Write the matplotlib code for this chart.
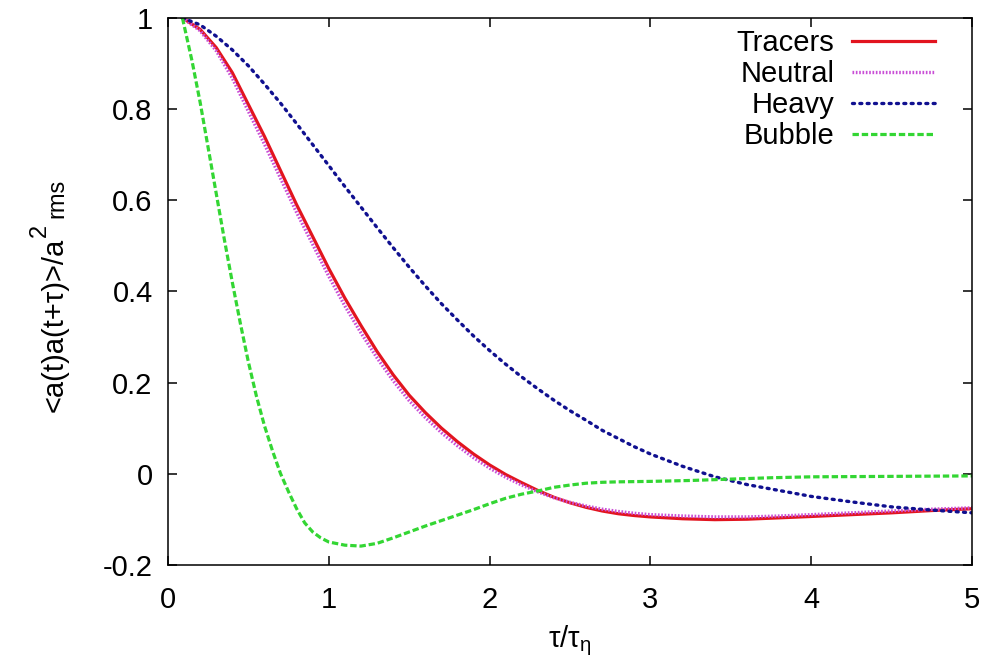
import matplotlib
matplotlib.use("Agg")
import matplotlib.pyplot as plt

plt.rcParams['font.family'] = ['Liberation Sans', 'DejaVu Sans']
plt.rcParams['mathtext.fontset'] = 'custom'
plt.rcParams['mathtext.rm'] = 'Liberation Sans'
plt.rcParams['mathtext.it'] = 'Liberation Sans:italic'

# tau / tau_eta and normalised acceleration autocorrelation
tracers_x = [0.09, 0.2, 0.3, 0.4, 0.5, 0.6, 0.7, 0.8, 0.9, 1.0, 1.1, 1.2, 1.3, 1.4, 1.5,
             1.6, 1.7, 1.8, 1.9, 2.0, 2.1, 2.2, 2.3, 2.4, 2.5, 2.6, 2.7, 2.8, 2.9, 3.0,
             3.2, 3.4, 3.6, 3.8, 4.0, 4.25, 4.5, 4.75, 5.0]
tracers_y = [1.0, 0.975, 0.935, 0.88, 0.81, 0.74, 0.665, 0.59, 0.52, 0.45, 0.385, 0.325,
             0.268, 0.217, 0.172, 0.134, 0.1, 0.07, 0.043, 0.019, -0.002, -0.02, -0.037,
             -0.052, -0.064, -0.074, -0.082, -0.088, -0.092, -0.095, -0.099, -0.101, -0.1,
             -0.097, -0.094, -0.09, -0.086, -0.081, -0.077]

neutral_x = tracers_x
neutral_y = [1.0, 0.972, 0.928, 0.868, 0.795, 0.723, 0.648, 0.573, 0.503, 0.433, 0.368,
             0.309, 0.254, 0.204, 0.16, 0.123, 0.09, 0.061, 0.035, 0.012, -0.008, -0.025,
             -0.04, -0.053, -0.063, -0.071, -0.078, -0.083, -0.087, -0.09, -0.093, -0.095,
             -0.095, -0.093, -0.09, -0.086, -0.082, -0.078, -0.075]

heavy_x = [0.09, 0.2, 0.3, 0.4, 0.5, 0.6, 0.7, 0.8, 0.9, 1.0, 1.1, 1.2, 1.3, 1.4, 1.5,
           1.6, 1.7, 1.8, 1.9, 2.0, 2.1, 2.2, 2.3, 2.4, 2.5, 2.6, 2.7, 2.8, 2.9, 3.0,
           3.2, 3.4, 3.6, 3.8, 4.0, 4.25, 4.5, 4.75, 5.0]
heavy_y = [1.0, 0.985, 0.96, 0.93, 0.895, 0.855, 0.813, 0.768, 0.722, 0.676, 0.63, 0.585,
           0.54, 0.496, 0.453, 0.412, 0.373, 0.337, 0.302, 0.27, 0.24, 0.212, 0.186, 0.161,
           0.138, 0.117, 0.095, 0.077, 0.059, 0.043, 0.016, -0.007, -0.024, -0.037, -0.05,
           -0.062, -0.073, -0.08, -0.086]

bubble_x = [0.09, 0.15, 0.2, 0.25, 0.3, 0.35, 0.4, 0.45, 0.5, 0.55, 0.6, 0.65, 0.7, 0.75,
            0.8, 0.85, 0.9, 0.95, 1.0, 1.1, 1.2, 1.3, 1.4, 1.5, 1.6, 1.7, 1.8, 1.9, 2.0,
            2.1, 2.2, 2.3, 2.4, 2.5, 2.6, 2.7, 2.8, 3.0, 3.25, 3.5, 3.75, 4.0, 4.5, 5.0]
bubble_y = [1.0, 0.905, 0.815, 0.715, 0.615, 0.515, 0.42, 0.33, 0.245, 0.17, 0.105, 0.05,
            0.0, -0.04, -0.077, -0.108, -0.128, -0.141, -0.15, -0.157, -0.159, -0.153,
            -0.141, -0.128, -0.115, -0.103, -0.091, -0.079, -0.066, -0.054, -0.045, -0.038,
            -0.03, -0.025, -0.021, -0.019, -0.018, -0.017, -0.015, -0.012, -0.009, -0.007,
            -0.006, -0.005]

xticks = [0, 1, 2, 3, 4, 5]
yticks = [-0.2, 0, 0.2, 0.4, 0.6, 0.8, 1]
ytick_labels = ['-0.2', '0', '0.2', '0.4', '0.6', '0.8', '1']

fig = plt.figure(figsize=(9.88, 6.66), dpi=100)
ax = fig.add_axes([0.170, 0.152, 0.814, 0.821])

ax.plot(tracers_x, tracers_y, color='#e2141f', lw=2.3, label='Tracers')
ax.plot(neutral_x, neutral_y, color='#c94fd6', lw=2.4, ls=(0, (0.5, 0.5)), label='Neutral')
ax.plot(heavy_x, heavy_y, color='#101090', lw=2.4, ls=(0, (0.6, 1.6)),
        dash_capstyle='round', label='Heavy')
ax.plot(bubble_x, bubble_y, color='#33d633', lw=2.3, ls=(0, (2.0, 0.9)), label='Bubble')

ax.set_xlim(0, 5)
ax.set_ylim(-0.2, 1)
ax.set_xticks(xticks)
ax.set_xticklabels([str(t) for t in xticks])
ax.set_yticks(yticks)
ax.set_yticklabels(ytick_labels)
ax.tick_params(direction='in', length=6.5, width=1.1, labelsize=21,
               top=True, right=True)
ax.tick_params(axis='x', pad=15)
ax.tick_params(axis='y', pad=11)
for s in ax.spines.values():
    s.set_linewidth(1.1)

ax.set_xlabel('τ/τ$_{\\mathrm{η}}$', fontsize=21, labelpad=7)
ax.set_ylabel('<a(t)a(t+τ)>/a', fontsize=21)
ax.yaxis.set_label_coords(-0.124, 0.438)

leg = ax.legend(loc='upper right', bbox_to_anchor=(0.954, 0.979), frameon=False,
                fontsize=21, markerfirst=False, handlelength=2.85, handletextpad=0.6,
                labelspacing=0.1, borderpad=0, borderaxespad=0)

# gnuplot-style superscript 2 and subscript rms after the y label
fig.canvas.draw()
renderer = fig.canvas.get_renderer()
bb = ax.yaxis.label.get_window_extent(renderer)
fig.text((bb.x0 + 11) / fig.bbox.width, (bb.y1 + 1) / fig.bbox.height, '2',
         rotation=90, fontsize=17, ha='right', va='bottom')
fig.text((bb.x0 + 28) / fig.bbox.width, (bb.y1 + 20) / fig.bbox.height, 'rms',
         rotation=90, fontsize=17, ha='right', va='bottom')

fig.savefig('out.png', dpi=100)
